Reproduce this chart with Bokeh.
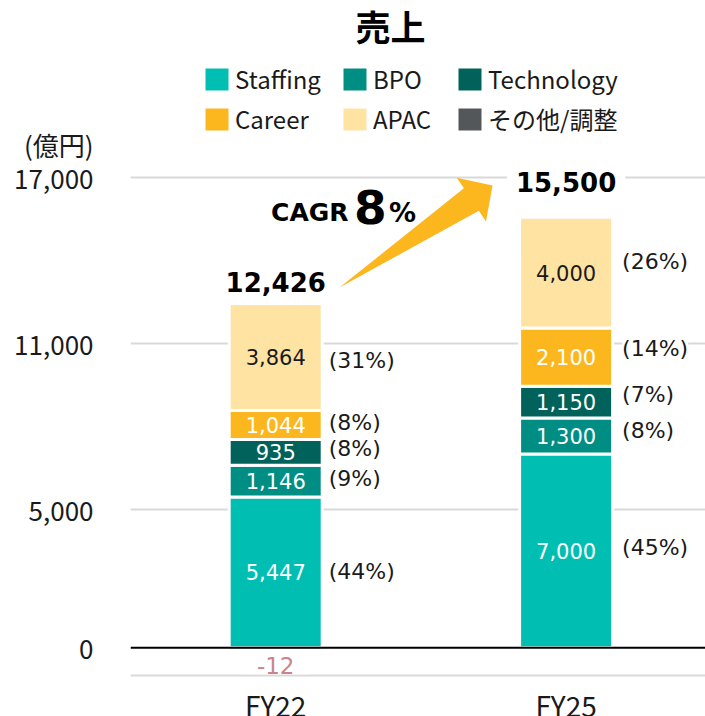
import math
from bokeh.plotting import figure
from bokeh.models import (ColumnDataSource, FixedTicker, Legend, LegendItem,
                          Span, Range1d, NumeralTickFormatter)
from bokeh.core.properties import value
from bokeh.embed import file_html
from bokeh.resources import INLINE

# ---------------- data ----------------
categories = ["FY22", "FY25"]
staffing = [5447, 7000]
bpo = [1146, 1300]
technology = [935, 1150]
career = [1044, 2100]
apac = [3864, 4000]
other_adj = [-12, 0]
totals = [12426, 15500]
staffing_share = ["(44%)", "(45%)"]
bpo_share = ["(9%)", "(8%)"]
technology_share = ["(8%)", "(7%)"]
career_share = ["(8%)", "(14%)"]
apac_share = ["(31%)", "(26%)"]
cagr_value = "8"
y_tick_values = [0, 5000, 11000, 17000]
grid_values = [-1000, 5000, 11000, 17000]
unit_label = "(億円)"
title_text = "売上"

segment_names = ["Staffing", "BPO", "Technology", "Career", "APAC"]
segment_values = [staffing, bpo, technology, career, apac]
segment_shares = [staffing_share, bpo_share, technology_share, career_share, apac_share]
other_name = "その他/調整"

# ---------------- style ----------------
COLORS = ["#00BFB2", "#008E84", "#00625A", "#FDB71E", "#FFE3A2"]
OTHER_COLOR = "#53575A"
VALUE_TEXT_COLORS = ["white", "white", "white", "white", "#1a1a1a"]
TEXT = "#1a1a1a"
JP = "Noto Sans CJK JP"
LAT = "DejaVu Sans"

W, H = 705, 716
LEFT = 130
FRAME_W, FRAME_H = W - LEFT, H
X_MAX = 3.96
PX_PER_X = FRAME_W / X_MAX
PX_PER_Y = 0.027681
Y_TOP = 647.3 / PX_PER_Y
Y_BOT = Y_TOP - FRAME_H / PX_PER_Y

def dx(px):
    return px / PX_PER_X

def dy(px):
    return px / PX_PER_Y

def x_at(page_x):
    return (page_x - LEFT) / PX_PER_X

def y_at(page_y):
    return Y_TOP - page_y / PX_PER_Y

p = figure(width=W, height=H, output_backend="svg", toolbar_location=None,
           x_range=Range1d(0, X_MAX), y_range=Range1d(Y_BOT, Y_TOP),
           min_border_left=LEFT, min_border_right=0, min_border_top=0, min_border_bottom=0)
p.outline_line_color = None
p.background_fill_color = "white"
p.border_fill_color = "white"

# axes / grid
UNIT_TICK = y_at(144)
p.yaxis.ticker = FixedTicker(ticks=y_tick_values + [UNIT_TICK])
p.yaxis.formatter = NumeralTickFormatter(format="0,0")
p.yaxis.major_label_overrides = {UNIT_TICK: unit_label}
p.yaxis.axis_line_color = None
p.yaxis.major_tick_line_color = None
p.yaxis.minor_tick_line_color = None
p.yaxis.major_label_standoff = 31
p.yaxis.major_label_text_font = JP
p.yaxis.major_label_text_font_size = "26px"
p.yaxis.major_label_text_line_height = 0.9
p.yaxis.major_label_text_color = TEXT

xs = [1 + 2 * i for i in range(len(categories))]
p.xaxis.ticker = FixedTicker(ticks=xs)
p.xaxis.major_label_overrides = {x: c for x, c in zip(xs, categories)}
p.xaxis.fixed_location = y_at(672)
p.xaxis.axis_line_color = None
p.xaxis.major_tick_line_color = None
p.xaxis.minor_tick_line_color = None
p.xaxis.major_label_standoff = 6
p.xaxis.major_label_text_font = JP
p.xaxis.major_label_text_font_size = "28px"
p.xaxis.major_label_text_color = TEXT

p.xgrid.visible = False
p.ygrid.ticker = FixedTicker(ticks=grid_values)
p.ygrid.grid_line_color = "#D9D9D9"
p.ygrid.grid_line_width = 2

# ---------------- stacked bars ----------------
BAR_W = dx(93)
bottoms = [0] * len(categories)
seg_rows = []
for name, vals, color, tcolor, shares in zip(segment_names, segment_values, COLORS,
                                             VALUE_TEXT_COLORS, segment_shares):
    tops = [b + v for b, v in zip(bottoms, vals)]
    src = ColumnDataSource(dict(x=xs, bottom=bottoms, top=tops))
    p.vbar(x="x", bottom="bottom", top="top", width=BAR_W, source=src,
           fill_color=color, line_color="white", line_width=3)
    seg_rows.append((name, list(bottoms), tops, vals, tcolor, shares))
    bottoms = tops
stack_tops = bottoms

p.vbar(x=xs, bottom=other_adj, top=[0] * len(xs), width=dx(90),
       fill_color=OTHER_COLOR, line_color=None)

# value labels inside segments
for name, bots, tops, vals, tcolor, shares in seg_rows:
    p.text(x=xs, y=[(b + t) / 2 for b, t in zip(bots, tops)],
           text=[f"{v:,}" for v in vals], text_align="center", text_baseline="middle",
           text_font=value(LAT), text_font_size="21px", text_color=tcolor)

# share labels to the right (pixel nudges per label, positive = up)
SHARE_GAP = [8, 11]
SHARE_NUDGE = {
    "Staffing": [1, 3.9], "BPO": [2.7, 6], "Technology": [3.6, 7.6],
    "Career": [2.5, 8.6], "APAC": [-3, 10.8],
}
for name, bots, tops, vals, tcolor, shares in seg_rows:
    sx = [x + dx(45 + g) for x, g in zip(xs, SHARE_GAP)]
    sy = [(b + t) / 2 + dy(n) for b, t, n in zip(bots, tops, SHARE_NUDGE[name])]
    p.text(x=sx, y=sy, text=shares, text_align="left", text_baseline="middle",
           text_font=value(LAT), text_font_size="22px", text_color=TEXT,
           background_fill_color="white")

# other / adjustment label below the baseline
ox = [x for x, v in zip(xs, other_adj) if v != 0]
ot = [f"{v:,}" for v in other_adj if v != 0]
p.text(x=ox, y=[-dy(18)] * len(ox), text=ot, text_align="center", text_baseline="middle",
       text_font=value(LAT), text_font_size="23px", text_color="#C9848E",
       background_fill_color="white", padding=dict(left=15, right=15, top=0, bottom=0))

# totals (label centre this many px above the stack top)
TOTAL_GAP = [21.1, 35.2]
p.text(x=xs, y=[t + dy(g) for t, g in zip(stack_tops, TOTAL_GAP)],
       text=[f"{t:,}" for t in totals], text_align="center", text_baseline="middle",
       text_font=value(LAT), text_font_style="bold", text_font_size="26px", text_color="black",
       background_fill_color="white", padding=dict(left=9, right=9, top=0, bottom=0))

# baseline
p.add_layout(Span(location=0, dimension="width", line_color="black", line_width=2))

# CAGR arrow
T = (339.0, 287.0)
P = (492.0, 185.0)
L = math.hypot(P[0] - T[0], P[1] - T[1])
d = ((P[0] - T[0]) / L, (P[1] - T[1]) / L)
n = (-d[1], d[0])
head_len, head_half, shaft_half = 25.4, 26.3, 13.5
B = (P[0] - d[0] * head_len, P[1] - d[1] * head_len)
pts = [T,
       (B[0] - n[0] * shaft_half, B[1] - n[1] * shaft_half),
       (B[0] - n[0] * head_half, B[1] - n[1] * head_half),
       P,
       (B[0] + n[0] * head_half, B[1] + n[1] * head_half),
       (B[0] + n[0] * shaft_half, B[1] + n[1] * shaft_half)]
p.patch(x=[x_at(a) for a, b in pts], y=[y_at(b) for a, b in pts],
        fill_color=COLORS[3], line_color=None)

p.text(x=[x_at(348)], y=[y_at(212.2)], text=["CAGR"], text_align="right", text_baseline="middle",
       text_font=value(LAT), text_font_style="bold", text_font_size="25px", text_color="black")
p.text(x=[x_at(353.5)], y=[y_at(206)], text=[cagr_value], text_align="left", text_baseline="middle",
       text_font=value(LAT), text_font_style="bold", text_font_size="47px", text_color="black")
p.text(x=[x_at(388.5)], y=[y_at(212.2)], text=["%"], text_align="left", text_baseline="middle",
       text_font=value(LAT), text_font_style="bold", text_font_size="27px", text_color="black")

# title
p.text(x=[x_at(390)], y=[y_at(25)], text=[title_text], text_align="center", text_baseline="middle",
       text_font=value(JP), text_font_style="bold", text_font_size="35px", text_color="black")

# legend (3 columns x 2 rows)
legend_names = segment_names + [other_name]
legend_colors = COLORS + [OTHER_COLOR]
nan = float("nan")
swatch = {}
for nm, c in zip(legend_names, legend_colors):
    swatch[nm] = p.vbar(x=[nan], top=[nan], width=0.1, fill_color=c,
                        line_color="white", line_width=5)

columns = [["Staffing", "Career"], ["BPO", "APAC"], ["Technology", other_name]]
col_left = [69, 207, 322]
for names, vx in zip(columns, col_left):
    lg = Legend(items=[LegendItem(label=nm, renderers=[swatch[nm]]) for nm in names],
                location=(vx, 580), orientation="vertical",
                glyph_width=35, glyph_height=34, label_height=30, label_standoff=1,
                spacing=5, padding=0, margin=0, border_line_color=None,
                background_fill_alpha=0, label_text_font=JP, label_text_font_size="24px",
                label_text_color=TEXT)
    p.add_layout(lg)

open("out.html", "w").write(file_html(p, INLINE))
